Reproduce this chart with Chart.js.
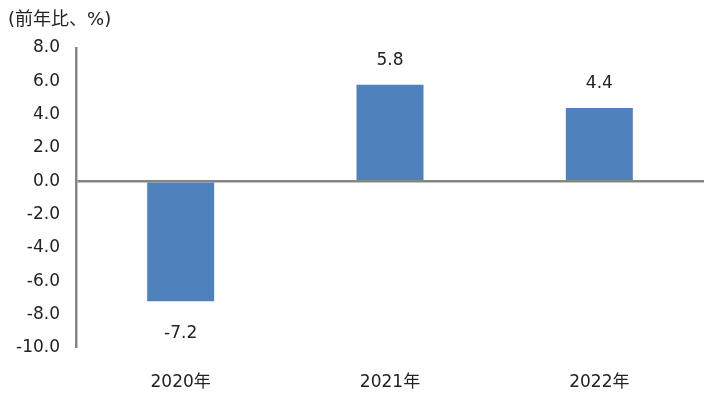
<!DOCTYPE html>
<html>
<head>
<meta charset="utf-8">
<script src="https://cdn.jsdelivr.net/npm/chart.js@4"></script>
<style>
  html, body { margin: 0; padding: 0; background: #fff; }
  #wrap { width: 714px; height: 394px; position: relative; }
  #unit { position: absolute; left: 8px; top: 4px; font: 18px "DejaVu Sans", "Noto Sans CJK JP", sans-serif; color: #222; }
</style>
</head>
<body>
<div id="wrap">
  <canvas id="myChart" width="714" height="394"></canvas>
  <div id="unit">(前年比、%)</div>
</div>
<script>
const labels = ['2020年', '2021年', '2022年'];
const values = [-7.2, 5.8, 4.4];
const yTicks = [-10, -8, -6, -4, -2, 0, 2, 4, 6, 8];

const fontFamily = '"DejaVu Sans", "Noto Sans CJK JP", sans-serif';

// value labels above / below each bar
const valueLabels = {
    id: 'valueLabels',
    afterDatasetsDraw(chart) {
        const ctx = chart.ctx;
        const meta = chart.getDatasetMeta(0);
        ctx.save();
        ctx.font = '17px ' + fontFamily;
        ctx.fillStyle = '#222';
        ctx.textAlign = 'center';
        meta.data.forEach((bar, i) => {
            const v = values[i];
            if (v >= 0) {
                ctx.textBaseline = 'bottom';
                ctx.fillText(v.toFixed(1), bar.x, bar.y - 16);
            } else {
                ctx.textBaseline = 'top';
                ctx.fillText(v.toFixed(1), bar.x, bar.y + 24);
            }
        });
        ctx.restore();
    }
};

const data = {
    labels: labels,
    datasets: [{
        data: values,
        backgroundColor: '#4F81BD',
        borderWidth: 0,
        barPercentage: 0.32,
        categoryPercentage: 1
    }]
};

const config = {
    type: 'bar',
    data: data,
    options: {
        responsive: false,
        animation: false,
        layout: { padding: { left: 0, right: 10, top: 48, bottom: 0 } },
        plugins: {
            legend: { display: false },
            tooltip: { enabled: false }
        },
        scales: {
            x: {
                grid: { display: false, drawTicks: false },
                border: { display: false },
                afterFit(scale) { scale.height = 46; },
                ticks: {
                    color: '#222',
                    padding: 24,
                    maxRotation: 0,
                    font: { family: fontFamily, size: 17 }
                }
            },
            y: {
                min: -10,
                max: 8,
                afterBuildTicks(axis) {
                    axis.ticks = yTicks.map(v => ({ value: v }));
                },
                afterFit(scale) { scale.width = 76; },
                grid: {
                    drawTicks: false,
                    lineWidth: ctx => ctx.tick && ctx.tick.value === 0 ? 2.5 : 0,
                    color: '#868686'
                },
                border: { display: true, color: '#868686', width: 2.5 },
                ticks: {
                    color: '#222',
                    padding: 16,
                    font: { family: fontFamily, size: 17 },
                    callback: v => v.toFixed(1)
                }
            }
        }
    },
    plugins: [valueLabels]
};

const myChart = new Chart(
    document.getElementById('myChart'),
    config
);
</script>
</body>
</html>
